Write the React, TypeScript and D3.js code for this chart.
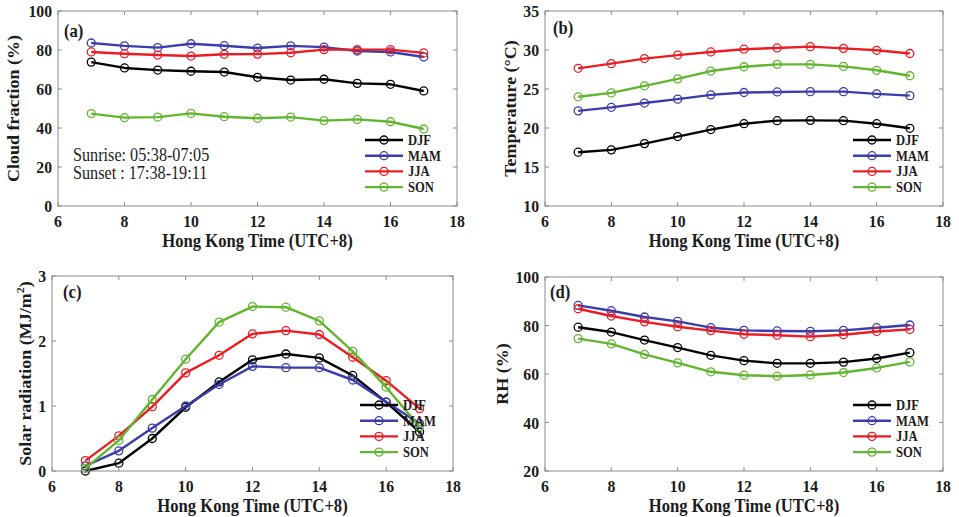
import React from 'react';
import * as d3 from 'd3';

// Local time (Hong Kong, UTC+8) of each hourly mean
const hours = [7, 8, 9, 10, 11, 12, 13, 14, 15, 16, 17];
const seasons = ['DJF', 'MAM', 'JJA', 'SON'];
const seasonColors = ['#000000', '#3a3dab', '#ec1c24', '#62b52f'];
const xTicks = [6, 8, 10, 12, 14, 16, 18];

// (a) Cloud fraction (%)
const cloudDJF = [73.8, 70.8, 69.7, 69.1, 68.7, 66.0, 64.6, 65.0, 62.9, 62.4, 59.0];
const cloudMAM = [83.6, 82.1, 81.2, 83.2, 82.2, 81.0, 82.1, 81.5, 79.5, 79.0, 76.4];
const cloudJJA = [79.0, 78.1, 77.4, 76.9, 77.8, 77.9, 78.6, 80.2, 80.2, 80.2, 78.5];
const cloudSON = [47.4, 45.3, 45.6, 47.5, 45.8, 45.0, 45.6, 43.8, 44.4, 43.2, 39.5];
const cloudTicks = [0, 20, 40, 60, 80, 100];

// (b) Temperature (°C)
const tempDJF = [16.9, 17.2, 18.0, 18.9, 19.8, 20.55, 20.94, 20.98, 20.94, 20.55, 19.96];
const tempMAM = [22.2, 22.65, 23.2, 23.7, 24.25, 24.55, 24.62, 24.66, 24.66, 24.38, 24.15];
const tempJJA = [27.65, 28.25, 28.9, 29.35, 29.75, 30.1, 30.26, 30.43, 30.21, 29.96, 29.55];
const tempSON = [24.0, 24.5, 25.4, 26.3, 27.3, 27.85, 28.16, 28.16, 27.9, 27.4, 26.7];
const tempTicks = [10, 15, 20, 25, 30, 35];

// (c) Solar radiation (MJ/m²)
const solarDJF = [0.0, 0.12, 0.5, 0.98, 1.37, 1.71, 1.8, 1.74, 1.47, 1.06, 0.6];
const solarMAM = [0.08, 0.31, 0.66, 1.0, 1.33, 1.61, 1.59, 1.59, 1.4, 1.06, 0.73];
const solarJJA = [0.16, 0.54, 0.99, 1.51, 1.78, 2.11, 2.16, 2.1, 1.75, 1.39, 0.96];
const solarSON = [0.04, 0.47, 1.1, 1.72, 2.29, 2.53, 2.52, 2.31, 1.84, 1.29, 0.68];
const solarTicks = [0, 1, 2, 3];

// (d) Relative humidity (%)
const rhDJF = [79.3, 77.3, 74.0, 70.9, 67.7, 65.5, 64.4, 64.4, 64.9, 66.4, 68.8];
const rhMAM = [88.3, 86.1, 83.5, 81.7, 79.1, 78.0, 77.75, 77.6, 78.0, 79.1, 80.2];
const rhJJA = [86.9, 83.9, 81.5, 79.5, 77.9, 76.4, 76.0, 75.4, 76.2, 77.5, 78.4];
const rhSON = [74.6, 72.4, 68.1, 64.6, 60.9, 59.5, 59.1, 59.6, 60.6, 62.5, 65.0];
const rhTicks = [20, 40, 60, 80, 100];

const sunriseText = 'Sunrise: 05:38-07:05';
const sunsetText = 'Sunset : 17:38-19:11';
const xTitle = 'Hong Kong Time (UTC+8)';

const FONT = '"Liberation Serif", "Times New Roman", Times, serif';
const TEXT = '#1c1c1c';
const BOX = '#8c8c8c';
const SX = 0.9; // horizontal squeeze applied to the serif lettering

type Box = { left: number; right: number; top: number; bottom: number };

function HText(props: {
  x: number; y: number; size: number; anchor?: 'start' | 'middle' | 'end';
  bold?: boolean; children: React.ReactNode;
}) {
  const { x, y, size, anchor = 'start', bold = true, children } = props;
  return (
    <text
      transform={`translate(${x},${y}) scale(${SX},1)`}
      textAnchor={anchor}
      fontFamily={FONT}
      fontSize={size}
      fontWeight={bold ? 'bold' : 'normal'}
      fill={TEXT}
    >
      {children}
    </text>
  );
}

function Panel(props: {
  box: Box;
  yDomain: [number, number];
  yTicks: number[];
  series: number[][];
  yTitle: React.ReactNode;
  yTitleX: number;
  tag: string;
  tagPos: [number, number];
  legendX: number;
  legendY: number;
  children?: React.ReactNode;
}) {
  const { box, yDomain, yTicks, series, yTitle, yTitleX, tag, tagPos, legendX, legendY } = props;
  const x = d3.scaleLinear().domain([6, 18]).range([box.left, box.right]);
  const y = d3.scaleLinear().domain(yDomain).range([box.bottom, box.top]);
  const line = d3
    .line<number>()
    .x((_, i) => x(hours[i]))
    .y((d) => y(d));
  const tickLen = 4;
  const fs = 17.5;
  const rowGap = 15.7;
  return (
    <g>
      {series.map((s, k) => (
        <g key={seasons[k]}>
          <path d={line(s) ?? ''} fill="none" stroke={seasonColors[k]} strokeWidth={2.4} strokeLinejoin="round" />
          {s.map((v, i) => (
            <circle key={i} cx={x(hours[i])} cy={y(v)} r={4} fill="none" stroke={seasonColors[k]} strokeWidth={1.3} />
          ))}
        </g>
      ))}
      {/* axes box with inward ticks on all four sides */}
      <rect x={box.left} y={box.top} width={box.right - box.left} height={box.bottom - box.top} fill="none" stroke={BOX} strokeWidth={1} />
      {xTicks.map((t) => (
        <g key={'x' + t}>
          <line x1={x(t)} x2={x(t)} y1={box.bottom} y2={box.bottom - tickLen} stroke={BOX} />
          <line x1={x(t)} x2={x(t)} y1={box.top} y2={box.top + tickLen} stroke={BOX} />
          <HText x={x(t)} y={box.bottom + 21} size={fs} anchor="middle">{t}</HText>
        </g>
      ))}
      {yTicks.map((t) => (
        <g key={'y' + t}>
          <line x1={box.left} x2={box.left + tickLen} y1={y(t)} y2={y(t)} stroke={BOX} />
          <line x1={box.right} x2={box.right - tickLen} y1={y(t)} y2={y(t)} stroke={BOX} />
          <HText x={box.left - 6} y={y(t) + 6} size={fs} anchor="end">{t}</HText>
        </g>
      ))}
      <HText x={(box.left + box.right) / 2} y={box.bottom + 41} size={18.5} anchor="middle">{xTitle}</HText>
      <text
        transform={`translate(${yTitleX + 5.5},${(box.top + box.bottom) / 2}) rotate(-90) scale(1,${SX})`}
        textAnchor="middle"
        fontFamily={FONT}
        fontSize={18}
        fontWeight="bold"
        fill={TEXT}
      >
        {yTitle}
      </text>
      <HText x={tagPos[0]} y={tagPos[1]} size={18.5}>{tag}</HText>
      {props.children}
      {/* legend */}
      {seasons.map((name, k) => {
        const ly = legendY + k * rowGap;
        return (
          <g key={'lg' + name}>
            <line x1={legendX} x2={legendX + 38} y1={ly} y2={ly} stroke={seasonColors[k]} strokeWidth={2.4} />
            <circle cx={legendX + 19} cy={ly} r={4} fill="none" stroke={seasonColors[k]} strokeWidth={1.3} />
            <HText x={legendX + 43} y={ly + 5} size={14}>{name}</HText>
          </g>
        );
      })}
    </g>
  );
}

const boxA: Box = { left: 58, right: 457, top: 11, bottom: 206 };
const boxB: Box = { left: 545, right: 943, top: 11, bottom: 206 };
const boxC: Box = { left: 52, right: 453, top: 276, bottom: 471 };
const boxD: Box = { left: 545, right: 943, top: 277, bottom: 471 };

export default function App() {
  return (
    <div style={{ position: 'absolute', left: 0, top: 0, background: '#fff' }}>
      <svg width={959} height={517} viewBox="0 0 959 517" style={{ display: 'block' }}>
        <rect width={959} height={517} fill="#ffffff" />
        <Panel
          box={boxA}
          yDomain={[0, 100]}
          yTicks={cloudTicks}
          series={[cloudDJF, cloudMAM, cloudJJA, cloudSON]}
          yTitle="Cloud fraction (%)"
          yTitleX={13}
          tag="(a)"
          tagPos={[64, 37]}
          legendX={boxA.right - 92}
          legendY={boxA.bottom - 66}
        >
          <HText x={73} y={160.5} size={18} bold={false}>{sunriseText}</HText>
          <HText x={73} y={179} size={18} bold={false}>{sunsetText}</HText>
        </Panel>
        <Panel
          box={boxB}
          yDomain={[10, 35]}
          yTicks={tempTicks}
          series={[tempDJF, tempMAM, tempJJA, tempSON]}
          yTitle="Temperature (°C)"
          yTitleX={510}
          tag="(b)"
          tagPos={[553, 34]}
          legendX={boxB.right - 90}
          legendY={boxB.bottom - 66}
        />
        <Panel
          box={boxC}
          yDomain={[0, 3]}
          yTicks={solarTicks}
          series={[solarDJF, solarMAM, solarJJA, solarSON]}
          yTitle={
            <>
              <tspan>Solar radiation (MJ/m</tspan>
              <tspan dy={-7} fontSize={12}>2</tspan>
              <tspan dy={7}>)</tspan>
            </>
          }
          yTitleX={25}
          tag="(c)"
          tagPos={[63, 298]}
          legendX={boxC.right - 93}
          legendY={boxC.bottom - 66}
        />
        <Panel
          box={boxD}
          yDomain={[20, 100]}
          yTicks={rhTicks}
          series={[rhDJF, rhMAM, rhJJA, rhSON]}
          yTitle="RH (%)"
          yTitleX={502}
          tag="(d)"
          tagPos={[550, 298]}
          legendX={boxD.right - 90}
          legendY={boxD.bottom - 66}
        />
      </svg>
    </div>
  );
}
